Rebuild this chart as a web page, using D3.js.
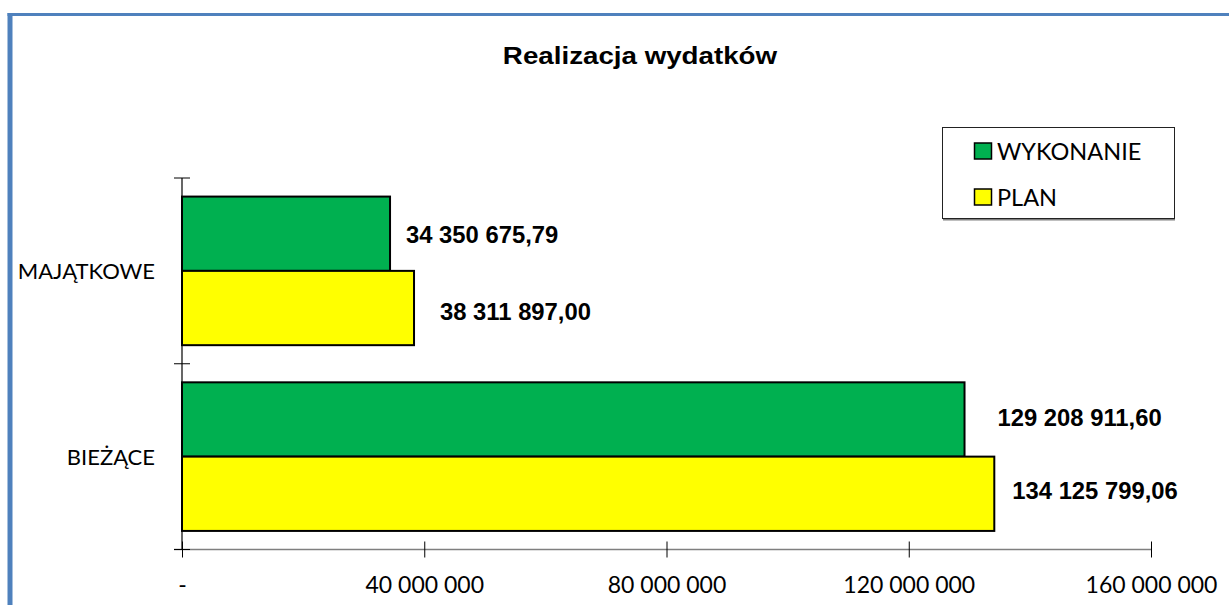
<!DOCTYPE html>
<html>
<head>
<meta charset="utf-8">
<script src="https://cdn.jsdelivr.net/npm/d3@7"></script>
<style>
  html, body { margin: 0; padding: 0; background: #ffffff; }
  svg { display: block; }
</style>
</head>
<body>
<svg id="chart" width="1229" height="605"></svg>
<script>
// ---- data ----
const title = "Realizacja wydatków";
const categories = ["MAJĄTKOWE", "BIEŻĄCE"];
const seriesNames = ["WYKONANIE", "PLAN"];
const wykonanie = [34350675.79, 129208911.60];
const plan = [38311897.00, 134125799.06];
const xTicks = [0, 40000000, 80000000, 120000000, 160000000];
const xDomain = [0, 160000000];

// ---- layout / style (not data) ----
const colors = ["#00b050", "#ffff00"];
const labelDx = [[16, 26], [33, 18]];
const labelDy = [[1, 3], [-2, -3]];
const boldFont = "'Liberation Sans', Arial, sans-serif";
const lightFont = "Lato, 'Open Sans', sans-serif";

const svg = d3.select("#chart");
const locale = d3.formatLocale({ decimal: ",", thousands: " ", grouping: [3], currency: ["", ""] });
const fmtVal = locale.format(",.2f");
const fmtTick = v => v === 0 ? "-" : locale.format(",.0f")(v);

function stretch(sel, sx) {
  sel.each(function () {
    if (sx === 1) return;
    const w = this.getComputedTextLength();
    d3.select(this).attr("textLength", w * sx).attr("lengthAdjust", "spacingAndGlyphs");
  });
}

// chart-area border (blue)
svg.append("line").attr("x1", 10).attr("x2", 10).attr("y1", 13).attr("y2", 605)
  .attr("stroke", "#4f81bd").attr("stroke-width", 5);
svg.append("line").attr("x1", 7.5).attr("x2", 1229).attr("y1", 14.5).attr("y2", 14.5)
  .attr("stroke", "#4f81bd").attr("stroke-width", 3);

// scales
const x = d3.scaleLinear().domain(xDomain).range([182, 1151]);
const y = d3.scaleBand().domain(categories).range([178, 549.5]).paddingInner(0.2).paddingOuter(0.1);
const ys = d3.scaleBand().domain(seriesNames).range([0, y.bandwidth()]);

const series = [wykonanie, plan];
const rows = [];
categories.forEach((c, ci) => {
  seriesNames.forEach((s, si) => {
    rows.push({ cat: c, ci, ser: s, si, value: series[si][ci] });
  });
});

// title
svg.append("text").attr("x", 640).attr("y", 64).attr("text-anchor", "middle")
  .attr("font-family", boldFont).attr("font-weight", "bold").attr("font-size", 24)
  .attr("fill", "#000").text(title).call(stretch, 1.155);

// bars
svg.append("g").selectAll("rect").data(rows).join("rect")
  .attr("x", x(0))
  .attr("y", d => y(d.cat) + ys(d.ser))
  .attr("width", d => x(d.value) - x(0))
  .attr("height", ys.bandwidth())
  .attr("fill", d => colors[d.si])
  .attr("stroke", "#000").attr("stroke-width", 2);

// value labels
svg.append("g").selectAll("text").data(rows).join("text")
  .attr("x", d => x(d.value) + labelDx[d.ci][d.si])
  .attr("y", d => y(d.cat) + ys(d.ser) + ys.bandwidth() / 2 + labelDy[d.ci][d.si] + 8.5)
  .attr("font-family", boldFont).attr("font-weight", "bold").attr("font-size", 23)
  .attr("fill", "#000")
  .text(d => fmtVal(d.value))
  .call(stretch, 1.035);

// x axis
const xAxis = d3.axisBottom(x).tickValues(xTicks).tickFormat(fmtTick).tickSize(0);
const gx = svg.append("g").attr("transform", `translate(0,${y.range()[1]})`).call(xAxis);
gx.select(".domain").remove();
gx.insert("line", ":first-child").attr("x1", 174).attr("x2", x(xDomain[1])).attr("y1", 0).attr("y2", 0)
  .attr("stroke", "#7f7f7f").attr("stroke-width", 1.5);
gx.selectAll(".tick line").attr("y1", -8).attr("y2", 8).attr("stroke", "#000").attr("stroke-width", 1);
gx.selectAll(".tick text").attr("y", 43).attr("dy", null)
  .attr("font-family", lightFont).attr("font-size", 23).attr("fill", "#000")
  .call(stretch, 1);

// y axis
const gy = svg.append("g");
gy.append("line").attr("x1", x(0)).attr("x2", x(0)).attr("y1", y.range()[0]).attr("y2", y.range()[1])
  .attr("stroke", "#000").attr("stroke-width", 1.2);
const boundaries = [y.range()[0], ...categories.slice(1).map(c => y(c) - y.step() * y.paddingInner() / 2), y.range()[1]];
gy.selectAll("line.tk").data(boundaries).join("line").attr("class", "tk")
  .attr("x1", x(0) - 8).attr("x2", x(0) + 8).attr("y1", d => d).attr("y2", d => d)
  .attr("stroke", "#000").attr("stroke-width", 1);
gy.selectAll("text").data(categories).join("text")
  .attr("x", 155).attr("y", d => y(d) + y.bandwidth() / 2 + 8)
  .attr("text-anchor", "end")
  .attr("font-family", lightFont).attr("font-size", 22).attr("fill", "#000")
  .text(d => d).call(stretch, 1);

// legend
const lg = svg.append("g");
lg.append("line").attr("x1", 943).attr("x2", 1175).attr("y1", 219.5).attr("y2", 219.5)
  .attr("stroke", "#808080").attr("stroke-width", 2);
lg.append("rect").attr("x", 942.5).attr("y", 127.5).attr("width", 232).attr("height", 91)
  .attr("fill", "#fff").attr("stroke", "#222").attr("stroke-width", 1);
const legendY = [151, 197];
seriesNames.forEach((s, i) => {
  lg.append("rect").attr("x", 974.5).attr("y", legendY[i] - 8).attr("width", 17).attr("height", 16)
    .attr("fill", colors[i]).attr("stroke", "#000").attr("stroke-width", 1.5);
  lg.append("text").attr("x", 997).attr("y", legendY[i] + 8.5)
    .attr("font-family", lightFont).attr("font-size", 23.5).attr("fill", "#000")
    .text(s).call(stretch, 1);
});
</script>
</body>
</html>
